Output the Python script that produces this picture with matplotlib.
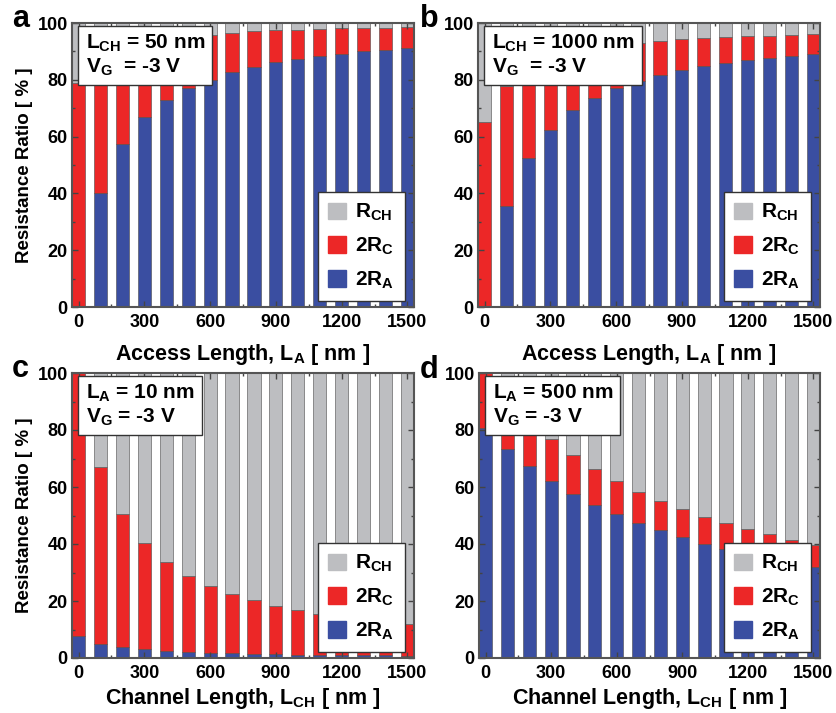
import matplotlib
matplotlib.use("Agg")
import matplotlib.pyplot as plt
from matplotlib.patches import Patch
from matplotlib.ticker import MultipleLocator

plt.rcParams['font.family'] = ['Liberation Sans', 'DejaVu Sans']
plt.rcParams['font.weight'] = 'bold'
plt.rcParams['mathtext.fontset'] = 'custom'
plt.rcParams['mathtext.rm'] = 'Liberation Sans:bold'
plt.rcParams['mathtext.it'] = 'Liberation Sans:bold'
plt.rcParams['mathtext.bf'] = 'Liberation Sans:bold'

# longueurs (nm)
lengths = [0, 100, 200, 300, 400, 500, 600, 700, 800, 900, 1000, 1100, 1200, 1300, 1400, 1500]

# a : L_CH = 50 nm, balayage de L_A
a_2ra = [0, 40, 57.3, 66.8, 72.9, 77.1, 80.1, 82.7, 84.6, 86.2, 87.3, 88.3, 89.2, 90.0, 90.6, 91.2]
a_2rc = [79, 47.4, 33.8, 26.2, 21.5, 18.1, 15.8, 13.9, 12.5, 11.3, 10.4, 9.6, 8.9, 8.2, 7.7, 7.3]

# b : L_CH = 1000 nm, balayage de L_A
b_2ra = [0, 35.7, 52.6, 62.4, 69.2, 73.6, 77.1, 79.6, 81.6, 83.5, 84.9, 85.8, 87.1, 87.7, 88.3, 89.2]
b_2rc = [65, 42.0, 30.8, 24.4, 20.1, 17.2, 15.0, 13.3, 12.0, 10.8, 9.8, 9.1, 8.3, 7.8, 7.4, 6.8]

# c : L_A = 10 nm, balayage de L_CH
c_2ra = [7.6, 5.0, 3.7, 3.0, 2.5, 2.1, 1.8, 1.6, 1.5, 1.3, 1.2, 1.1, 1.0, 0.9, 0.9, 0.8]
c_2rc = [92.4, 62.0, 46.8, 37.5, 31.2, 26.8, 23.5, 20.8, 18.9, 17.0, 15.6, 14.3, 13.4, 12.5, 11.8, 11.1]

# d : L_A = 500 nm, balayage de L_CH
d_2ra = [80.6, 73.5, 67.3, 62.2, 57.6, 53.7, 50.5, 47.4, 44.8, 42.3, 40.1, 38.2, 36.4, 34.9, 33.3, 32.1]
d_2rc = [19.4, 17.8, 16.3, 14.8, 13.6, 12.6, 11.7, 11.0, 10.4, 10.1, 9.4, 9.2, 8.8, 8.5, 8.0, 7.7]

panels = [
    ('a', a_2ra, a_2rc, 'L$_\\mathrm{CH}$ = 50 nm\nV$_\\mathrm{G}$  = -3 V', 'Access Length, L$_\\mathrm{A}$ [ nm ]', True),
    ('b', b_2ra, b_2rc, 'L$_\\mathrm{CH}$ = 1000 nm\nV$_\\mathrm{G}$  = -3 V', 'Access Length, L$_\\mathrm{A}$ [ nm ]', False),
    ('c', c_2ra, c_2rc, 'L$_\\mathrm{A}$ = 10 nm\nV$_\\mathrm{G}$ = -3 V', 'Channel Length, L$_\\mathrm{CH}$ [ nm ]', True),
    ('d', d_2ra, d_2rc, 'L$_\\mathrm{A}$ = 500 nm\nV$_\\mathrm{G}$ = -3 V', 'Channel Length, L$_\\mathrm{CH}$ [ nm ]', False),
]

cor_ra = '#3a4ea1'
cor_rc = '#ec2727'
cor_rch = '#bdbec1'

W, H = 836, 713
fig = plt.figure(figsize=(W / 100, H / 100), dpi=100)

# posições dos eixos em pixels (esq, topo, dir, baixo)
caixas = [(72, 23, 414, 307), (478, 23, 820, 307), (72, 373, 414, 658), (479, 373, 820, 658)]
letras_pos = [(12, 27), (420, 27), (12, 377), (420, 378)]
xlabel_pad = [8, 8, 3, 3]

for (letra, ra, rc, texto, xlab, ylab), (l, t, r, b), (lx, ly), lp in zip(panels, caixas, letras_pos, xlabel_pad):
    ax = fig.add_axes([l / W, 1 - b / H, (r - l) / W, (b - t) / H])
    topo = [x + y for x, y in zip(ra, rc)]
    rch = [100 - v for v in topo]
    kw = dict(width=60, edgecolor='#4a4a4a', linewidth=0.4)
    ax.bar(lengths, ra, color=cor_ra, **kw)
    ax.bar(lengths, rc, bottom=ra, color=cor_rc, **kw)
    ax.bar(lengths, rch, bottom=topo, color=cor_rch, **kw)

    ax.set_xlim(-30, 1530)
    ax.set_ylim(0, 100)
    ax.set_xticks(range(0, 1501, 300))
    ax.set_yticks(range(0, 101, 20))
    ax.xaxis.set_minor_locator(MultipleLocator(150))
    ax.yaxis.set_minor_locator(MultipleLocator(10))
    ax.tick_params(which='both', direction='in', top=True, right=True, labelsize=13, width=1, color='#444444')
    ax.tick_params(axis='x', which='major', length=4, pad=5)
    ax.tick_params(axis='y', which='major', length=4, pad=3)
    ax.tick_params(which='minor', length=2)
    for s in ax.spines.values():
        s.set_linewidth(1.5)
        s.set_color('#555555')

    ax.set_xlabel(xlab, fontsize=15.5, fontweight='bold', labelpad=lp)
    if ylab:
        ax.set_ylabel('Resistance Ratio [ % ]', fontsize=13.5, fontweight='bold', labelpad=3)

    ax.text(0.04, 0.965, texto, transform=ax.transAxes, fontsize=15, fontweight='bold',
            va='top', ha='left', linespacing=1.15, zorder=5,
            bbox=dict(boxstyle='square,pad=0.35', facecolor='white', edgecolor='#333333', linewidth=1))

    handles = [Patch(color=cor_rch), Patch(color=cor_rc), Patch(color=cor_ra)]
    leg = ax.legend(handles, ['R$_\\mathrm{CH}$', '2R$_\\mathrm{C}$', '2R$_\\mathrm{A}$'],
                    loc='lower right', bbox_to_anchor=(0.985, 0.005), fontsize=15, fancybox=False,
                    framealpha=1, edgecolor='#333333', handlelength=0.85, handleheight=0.85,
                    handletextpad=0.45, labelspacing=0.6, borderpad=0.5, borderaxespad=0.2)
    leg.get_frame().set_linewidth(1)

    fig.text(lx / W, 1 - ly / H, letra, fontsize=22, fontweight='bold', ha='left', va='baseline')

fig.savefig('out.png', dpi=100)
